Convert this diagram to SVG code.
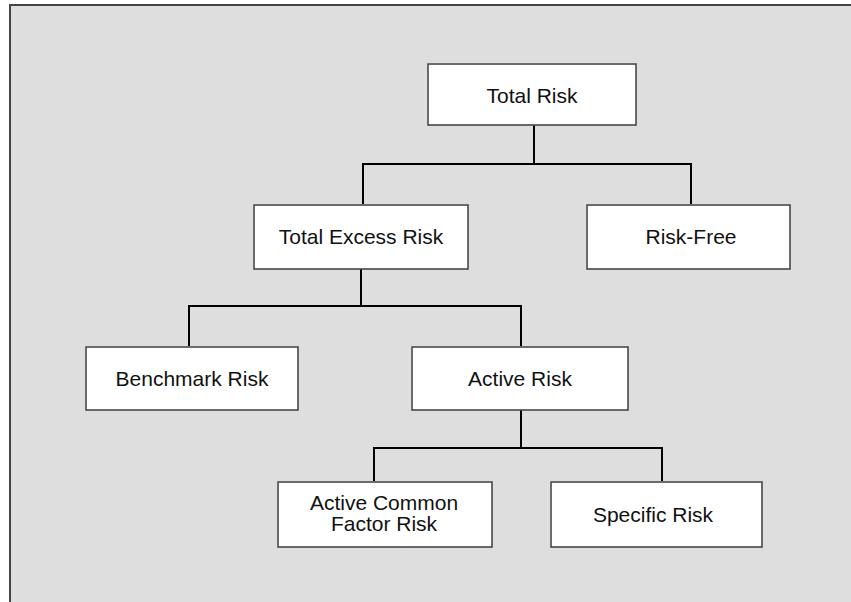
<svg xmlns="http://www.w3.org/2000/svg" width="851" height="602" viewBox="0 0 851 602">
<style>
.bx{fill:#fff;stroke:#474747;stroke-width:1.6}
.hl{fill:#fff}
.t{font-family:"Liberation Sans",Arial,sans-serif;font-size:21px;fill:#111;text-anchor:middle}
.c{fill:none;stroke:#000;stroke-width:2}
</style>
<rect x="0" y="0" width="851" height="602" fill="#fff"/>
<rect x="10" y="5" width="845" height="600" fill="#dedede"/>
<path d="M10,602 V5 H851" fill="none" stroke="#444" stroke-width="2"/>
<g id="connectors">
<path class="c" d="M534,125 V164 M363,205 V164 H691 V205"/>
<path class="c" d="M361,269 V306 M189,347 V306 H521 V347"/>
<path class="c" d="M521,410 V448 M374,482 V448 H662 V482"/>
</g>
<g id="total-risk">
<rect class="hl" x="427" y="63" width="209" height="62"/>
<rect class="bx" x="428" y="64" width="208" height="61"/>
<text class="t" x="532" y="103">Total Risk</text>
</g>
<g id="total-excess-risk">
<rect class="hl" x="253" y="204" width="215" height="65"/>
<rect class="bx" x="254" y="205" width="214" height="64"/>
<text class="t" x="361" y="244">Total Excess Risk</text>
</g>
<g id="risk-free">
<rect class="hl" x="586" y="204" width="204" height="65"/>
<rect class="bx" x="587" y="205" width="203" height="64"/>
<text class="t" x="691" y="244">Risk-Free</text>
</g>
<g id="benchmark-risk">
<rect class="hl" x="85" y="346" width="213" height="64"/>
<rect class="bx" x="86" y="347" width="212" height="63"/>
<text class="t" x="192" y="386">Benchmark Risk</text>
</g>
<g id="active-risk">
<rect class="hl" x="411" y="346" width="217" height="64"/>
<rect class="bx" x="412" y="347" width="216" height="63"/>
<text class="t" x="520" y="386">Active Risk</text>
</g>
<g id="active-common-factor-risk">
<rect class="hl" x="277" y="481" width="215" height="66"/>
<rect class="bx" x="278" y="482" width="214" height="65"/>
<text class="t" x="384" y="510">Active Common</text>
<text class="t" x="384" y="531">Factor Risk</text>
</g>
<g id="specific-risk">
<rect class="hl" x="550" y="481" width="212" height="66"/>
<rect class="bx" x="551" y="482" width="211" height="65"/>
<text class="t" x="653" y="522">Specific Risk</text>
</g>
</svg>
